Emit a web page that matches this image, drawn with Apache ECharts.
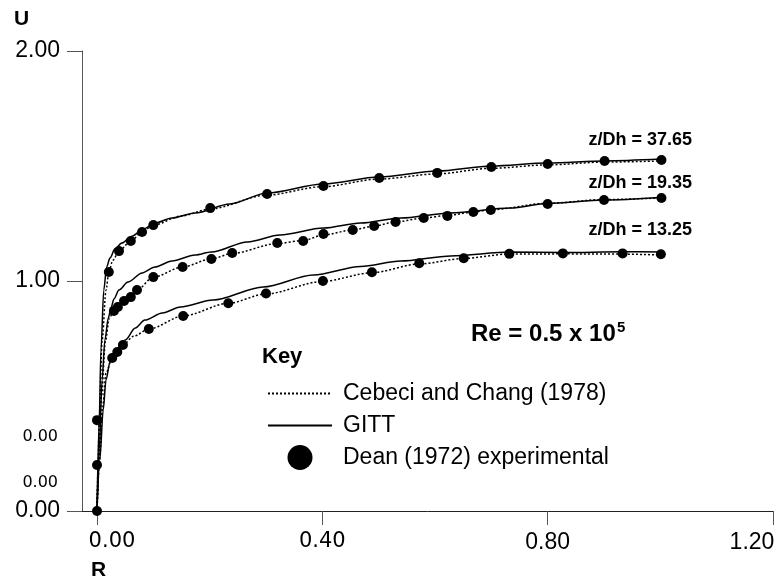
<!DOCTYPE html>
<html lang="en">
<head>
    <meta charset="UTF-8">
    <title>Velocity profiles</title>
    <script src="https://cdn.jsdelivr.net/npm/echarts@6/dist/echarts.min.js"></script>
    <style>
        *{
            padding:0;
            margin:0;
        }
        html,body{
            height:100%;
            background:#fff;
        }
        #main{
            width:778px;
            height:582px;
        }
    </style>
</head>
<body>
<div id="main"></div>
<script>
    // tick labels
    var xLabelValues = [0, 0.4, 0.8, 1.2];
    var xLabelTexts = ['0.00', '0.40', '0.80', '1.20'];
    var yLabelValues = [0, 0.122, 0.322, 1, 2];
    var yLabelTexts = ['0.00', '0.00', '0.00', '1.00', '2.00'];

    // z/Dh = 37.65
    var dean3765 = [[0, 0], [0, 0.2], [0, 0.395], [0.021, 1.039], [0.039, 1.13], [0.06, 1.174], [0.08, 1.213], [0.1, 1.243],
        [0.201, 1.317], [0.302, 1.378], [0.402, 1.413], [0.501, 1.448], [0.604, 1.47], [0.7, 1.496], [0.8, 1.509],
        [0.901, 1.522], [1.002, 1.526]];
    var cebeci3765 = [[0, 0], [0.002, 0.2], [0.004, 0.4], [0.009, 0.74], [0.016, 0.96], [0.021, 1.039], [0.028, 1.09],
        [0.039, 1.13], [0.06, 1.174], [0.08, 1.213], [0.1, 1.243], [0.15, 1.283], [0.2, 1.313], [0.3, 1.373], [0.4, 1.41],
        [0.5, 1.443], [0.6, 1.465], [0.7, 1.49], [0.8, 1.505], [0.9, 1.517], [1.0, 1.522]];
    var gitt3765 = [[0, 0], [0.004, 0.4], [0.007, 0.7], [0.012, 0.96], [0.017, 1.06], [0.023, 1.1], [0.032, 1.14],
        [0.044, 1.165], [0.062, 1.195], [0.082, 1.226], [0.103, 1.252], [0.133, 1.274], [0.174, 1.296], [0.236, 1.335],
        [0.302, 1.383], [0.402, 1.422], [0.501, 1.452], [0.604, 1.478], [0.7, 1.5], [0.8, 1.513], [0.901, 1.522], [1.002, 1.53]];

    // z/Dh = 19.35
    var dean1935 = [[0.03, 0.87], [0.037, 0.887], [0.048, 0.913], [0.06, 0.93], [0.071, 0.961], [0.1, 1.017], [0.152, 1.061],
        [0.203, 1.096], [0.24, 1.122], [0.32, 1.165], [0.366, 1.174], [0.402, 1.204], [0.454, 1.222], [0.492, 1.239],
        [0.53, 1.257], [0.58, 1.274], [0.622, 1.283], [0.668, 1.3], [0.699, 1.309], [0.8, 1.335], [0.9, 1.352], [1.002, 1.361]];
    var cebeci1935 = [[0, 0], [0.003, 0.2], [0.008, 0.5], [0.015, 0.74], [0.022, 0.84], [0.03, 0.87], [0.037, 0.887],
        [0.048, 0.913], [0.06, 0.93], [0.071, 0.961], [0.1, 1.017], [0.152, 1.061], [0.203, 1.096], [0.24, 1.12],
        [0.32, 1.163], [0.366, 1.176], [0.402, 1.2], [0.454, 1.222], [0.492, 1.239], [0.53, 1.257], [0.58, 1.274],
        [0.622, 1.285], [0.668, 1.3], [0.699, 1.31], [0.8, 1.338], [0.9, 1.354], [1.0, 1.361]];
    var gitt1935 = [[0, 0], [0.004, 0.265], [0.009, 0.57], [0.014, 0.743], [0.02, 0.839], [0.025, 0.883], [0.03, 0.922],
        [0.039, 0.961], [0.055, 0.996], [0.08, 1.035], [0.103, 1.061], [0.133, 1.087], [0.174, 1.113], [0.203, 1.126],
        [0.267, 1.17], [0.325, 1.2], [0.402, 1.23], [0.468, 1.252], [0.539, 1.274], [0.628, 1.296], [0.734, 1.317],
        [0.8, 1.337], [0.9, 1.352], [1.001, 1.363]];

    // z/Dh = 13.25
    var dean1325 = [[0.027, 0.665], [0.036, 0.691], [0.046, 0.722], [0.092, 0.791], [0.153, 0.848], [0.233, 0.903],
        [0.3, 0.946], [0.401, 1.0], [0.488, 1.038], [0.572, 1.077], [0.651, 1.099], [0.732, 1.118], [0.827, 1.12],
        [0.933, 1.12], [1.001, 1.116]];
    var cebeci1325 = [[0, 0], [0.004, 0.2], [0.01, 0.45], [0.016, 0.6], [0.027, 0.665], [0.036, 0.691], [0.046, 0.722],
        [0.065, 0.76], [0.092, 0.791], [0.153, 0.848], [0.233, 0.903], [0.3, 0.944], [0.4, 0.998], [0.488, 1.036],
        [0.572, 1.074], [0.651, 1.098], [0.73, 1.117], [0.827, 1.118], [0.933, 1.117], [1.0, 1.113]];
    var gitt1325 = [[0, 0], [0.005, 0.222], [0.011, 0.439], [0.016, 0.57], [0.023, 0.648], [0.032, 0.691], [0.041, 0.717],
        [0.05, 0.743], [0.068, 0.796], [0.085, 0.83], [0.116, 0.861], [0.148, 0.887], [0.206, 0.917], [0.295, 0.974],
        [0.384, 1.026], [0.468, 1.063], [0.539, 1.087], [0.628, 1.109], [0.734, 1.126], [0.827, 1.124], [0.933, 1.127],
        [1.001, 1.126]];

    var NAME_CC = 'Cebeci and Chang (1978)';
    var NAME_GITT = 'GITT';
    var NAME_DEAN = 'Dean (1972) experimental';

    function findIdx(list, v) {
        for (var i = 0; i < list.length; i++) {
            if (Math.abs(list[i] - v) < 1e-6) return i;
        }
        return -1;
    }

    function dotted(data) {
        return {
            name: NAME_CC, type: 'line', data: data, symbol: 'none', smooth: 0.3, smoothMonotone: 'x',
            itemStyle: {color: '#000'},
            lineStyle: {color: '#000', width: 1.5, type: [2, 2]}, z: 2
        };
    }
    function solid(data) {
        return {
            name: NAME_GITT, type: 'line', data: data, symbol: 'none', smooth: 0.3, smoothMonotone: 'x',
            itemStyle: {color: '#000'},
            lineStyle: {color: '#000', width: 1.5}, z: 3
        };
    }
    function dots(data) {
        return {
            name: NAME_DEAN, type: 'scatter', data: data, symbol: 'circle', symbolSize: 10,
            itemStyle: {color: '#000', opacity: 1}, z: 4
        };
    }

    var myChart = echarts.init(document.getElementById('main'));
    var option = {
        animation: false,
        grid: {left: 82, right: 5, top: 51, bottom: 71},
        xAxis: {
            type: 'value',
            min: -0.02663,
            max: 1.2,
            splitLine: {show: false},
            axisLine: {onZero: false, lineStyle: {color: '#222', width: 1}},
            axisTick: {customValues: xLabelValues, length: 14, lineStyle: {color: '#555'}},
            axisLabel: {
                customValues: xLabelValues,
                margin: 20,
                formatter: function (v) {
                    var i = findIdx(xLabelValues, v);
                    var t = xLabelTexts[i];
                    if (i === 0) return '{first|' + t + '}';
                    if (i === 1) return '{dv|' + t + '}';
                    if (i === xLabelValues.length - 1) return '{last|' + t + '}';
                    return '{ls|' + t + '}';
                },
                rich: {
                    first: {fontFamily: 'DejaVu Sans', fontSize: 21, color: '#000', padding: [0, 0, 0, 30]},
                    dv: {fontFamily: 'DejaVu Sans', fontSize: 21, color: '#000'},
                    ls: {fontFamily: 'Liberation Sans', fontSize: 23, color: '#000'},
                    last: {fontFamily: 'Liberation Sans', fontSize: 23, color: '#000', padding: [0, 42, 0, 0]}
                }
            }
        },
        yAxis: {
            type: 'value',
            min: 0,
            max: 2,
            splitLine: {show: false},
            axisLine: {show: true, onZero: false, lineStyle: {color: '#555', width: 1}},
            axisTick: {show: true, customValues: [0, 1, 2], length: 15, lineStyle: {color: '#555'}},
            axisLabel: {
                customValues: yLabelValues,
                margin: 22,
                formatter: function (v) {
                    var i = findIdx(yLabelValues, v);
                    var t = yLabelTexts[i];
                    return (v > 0 && v < 1) ? '{s|' + t + '}' : '{b|' + t + '}';
                },
                rich: {
                    s: {fontFamily: 'DejaVu Sans', fontSize: 16, color: '#000', padding: [0, 2, 0, 0]},
                    b: {fontFamily: 'Liberation Sans', fontSize: 23, color: '#000'}
                }
            }
        },
        legend: {
            orient: 'vertical',
            left: 262,
            top: 376,
            itemWidth: 64,
            itemHeight: 25,
            itemGap: 7,
            selectedMode: false,
            data: [
                {name: NAME_CC, itemStyle: {opacity: 0}},
                {name: NAME_GITT, itemStyle: {opacity: 0}},
                {name: NAME_DEAN}
            ],
            textStyle: {fontFamily: 'Liberation Sans', fontSize: 23, color: '#000', lineHeight: 25, padding: [0, 0, 0, 6]}
        },
        graphic: [
            {type: 'text', left: 14, top: 9, style: {text: 'U', fontFamily: 'Liberation Sans', fontWeight: 'bold', fontSize: 21, fill: '#000'}},
            {type: 'text', left: 91, top: 560, style: {text: 'R', fontFamily: 'Liberation Sans', fontWeight: 'bold', fontSize: 21, fill: '#000'}},
            {type: 'text', right: 86, top: 131, style: {text: 'z/Dh = 37.65', fontFamily: 'Liberation Sans', fontWeight: 'bold', fontSize: 18, fill: '#000'}},
            {type: 'text', right: 86, top: 174, style: {text: 'z/Dh = 19.35', fontFamily: 'Liberation Sans', fontWeight: 'bold', fontSize: 18, fill: '#000'}},
            {type: 'text', right: 86, top: 221, style: {text: 'z/Dh = 13.25', fontFamily: 'Liberation Sans', fontWeight: 'bold', fontSize: 18, fill: '#000'}},
            {type: 'text', left: 262, top: 346, style: {text: 'Key', fontFamily: 'Liberation Sans', fontWeight: 'bold', fontSize: 22, fill: '#000'}},
            {type: 'text', left: 471, top: 322, style: {text: 'Re = 0.5 x 10', fontFamily: 'Liberation Sans', fontWeight: 'bold', fontSize: 24, fill: '#000'}},
            {type: 'text', left: 617, top: 320, style: {text: '5', fontFamily: 'Liberation Sans', fontWeight: 'bold', fontSize: 15, fill: '#000'}}
        ],
        series: [
            dotted(cebeci3765), dotted(cebeci1935), dotted(cebeci1325),
            solid(gitt3765), solid(gitt1935), solid(gitt1325),
            dots(dean3765), dots(dean1935), dots(dean1325)
        ]
    };
    myChart.setOption(option);
</script>
</body>
</html>
